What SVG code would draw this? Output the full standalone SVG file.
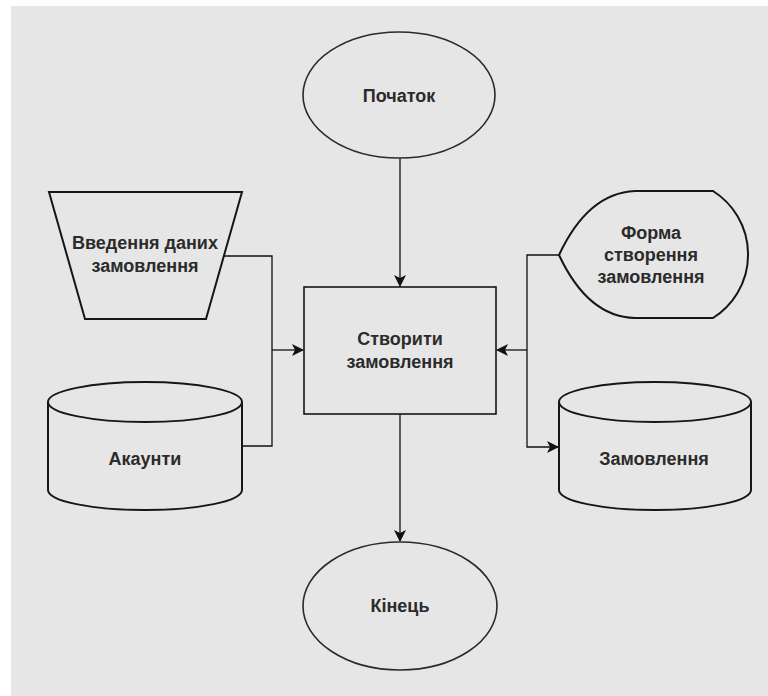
<svg xmlns="http://www.w3.org/2000/svg" width="768" height="696" viewBox="0 0 768 696">
  <style>
    .shape { fill: none; stroke: #161616; stroke-width: 2; }
    .oval { fill: none; stroke: #2a2a2a; stroke-width: 1.6; }
    .label { font-family: "Liberation Sans", Arial, sans-serif; font-size: 18px; font-weight: bold; fill: #2b2b2b; text-anchor: middle; dominant-baseline: central; }
    .edge { fill: none; stroke: #111; stroke-width: 1.3; }
  </style>
  <defs>
    <marker id="arrow" viewBox="0 0 12 12" refX="11" refY="6" markerWidth="12" markerHeight="12" markerUnits="userSpaceOnUse" orient="auto">
      <path d="M0,0 L12,6 L0,12 L3,6 Z" fill="#111"/>
    </marker>
  </defs>

  <!-- canvas -->
  <rect x="0" y="0" width="768" height="696" fill="#ffffff"/>
  <rect x="11" y="6" width="757" height="690" fill="#e6e6e6"/>

  <!-- connectors -->
  <g id="connectors">
    <line class="edge" x1="400" y1="158" x2="400" y2="286" marker-end="url(#arrow)"/>
    <line class="edge" x1="400" y1="414" x2="400" y2="541" marker-end="url(#arrow)"/>
    <polyline class="edge" points="224,256 272,256 272,446 242,446"/>
    <line class="edge" x1="272" y1="350" x2="303" y2="350" marker-end="url(#arrow)"/>
    <polyline class="edge" points="559,255 527,255 527,447 558,447" marker-end="url(#arrow)"/>
    <line class="edge" x1="527" y1="350" x2="497" y2="350" marker-end="url(#arrow)"/>
  </g>

  <!-- start -->
  <g id="start">
    <ellipse class="oval" cx="399" cy="95" rx="96" ry="63"/>
    <text class="label" x="399" y="96">Початок</text>
  </g>

  <!-- manual input -->
  <g id="input">
    <polygon class="shape" points="49,192 242,192 206,319 85,319"/>
    <text class="label" x="145" y="243">Введення даних</text>
    <text class="label" x="145" y="266">замовлення</text>
  </g>

  <!-- accounts store -->
  <g id="accounts">
    <path class="shape" d="M48,402 L48,490 A97,20 0 0 0 242,490 L242,402"/>
    <ellipse class="shape" cx="145" cy="402" rx="97" ry="20"/>
    <text class="label" x="145" y="459">Акаунти</text>
  </g>

  <!-- process -->
  <g id="process">
    <rect class="shape" x="304" y="287" width="192" height="127" style="stroke-width:1.6"/>
    <text class="label" x="400" y="339">Створити</text>
    <text class="label" x="400" y="362">замовлення</text>
  </g>

  <!-- display form -->
  <g id="form">
    <path class="shape" d="M559,255 Q588,193 635,191 L713,191 A75,75 0 0 1 713,318 L635,318 Q588,317 559,255 Z"/>
    <text class="label" x="651" y="233">Форма</text>
    <text class="label" x="651" y="255">створення</text>
    <text class="label" x="651" y="277">замовлення</text>
  </g>

  <!-- orders store -->
  <g id="orders">
    <path class="shape" d="M559,402 L559,490 A96,20 0 0 0 751,490 L751,402"/>
    <ellipse class="shape" cx="655" cy="402" rx="96" ry="20"/>
    <text class="label" x="654" y="459">Замовлення</text>
  </g>

  <!-- end -->
  <g id="end">
    <ellipse class="oval" cx="400" cy="606" rx="97" ry="64"/>
    <text class="label" x="400" y="606">Кінець</text>
  </g>
</svg>
